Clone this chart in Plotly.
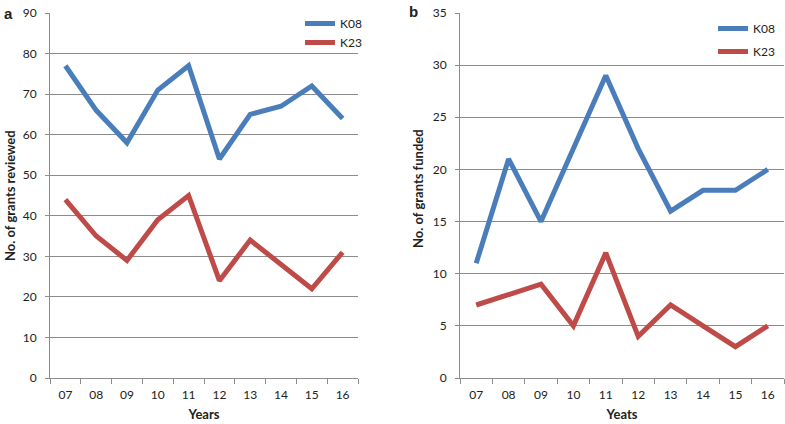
import plotly.graph_objects as go

years = ["07", "08", "09", "10", "11", "12", "13", "14", "15", "16"]
reviewed_k08 = [77, 66, 58, 71, 77, 54, 65, 67, 72, 64]
reviewed_k23 = [44, 35, 29, 39, 45, 24, 34, 28, 22, 31]
funded_k08 = [11, 21, 15, 22, 29, 22, 16, 18, 18, 20]
funded_k23 = [7, 8, 9, 5, 12, 4, 7, 5, 3, 5]

BLUE = "#4A7EBB"
RED = "#BE4B48"
GRID = "#8C8C8C"
FONT = "Lato"
W, H = 785, 424

fig = go.Figure()
fig.add_trace(go.Scatter(x=years, y=reviewed_k08, mode="lines", name="K08",
                         line=dict(color=BLUE, width=5), xaxis="x", yaxis="y", legend="legend"))
fig.add_trace(go.Scatter(x=years, y=reviewed_k23, mode="lines", name="K23",
                         line=dict(color=RED, width=5), xaxis="x", yaxis="y", legend="legend"))
fig.add_trace(go.Scatter(x=years, y=funded_k08, mode="lines", name="K08", legendgroup="b1",
                         line=dict(color=BLUE, width=5), xaxis="x2", yaxis="y2", legend="legend2"))
fig.add_trace(go.Scatter(x=years, y=funded_k23, mode="lines", name="K23", legendgroup="b2",
                         line=dict(color=RED, width=5), xaxis="x2", yaxis="y2", legend="legend2"))

ydom = [1 - 378 / H, 1 - 13 / H]
xaxis_common = dict(type="category", range=[-0.5, 9.5], showgrid=False, showline=True,
                    linecolor=GRID, linewidth=1, ticks="outside", tickson="boundaries",
                    ticklen=5, tickcolor=GRID, tickfont=dict(size=12, color="#222"),
                    ticklabelstandoff=6, fixedrange=True, zeroline=False, automargin=False)
yaxis_common = dict(showgrid=True, gridcolor=GRID, gridwidth=1, showline=True, linecolor=GRID,
                    ticks="outside", ticklen=4, tickcolor=GRID, zeroline=False, automargin=False,
                    tickfont=dict(size=12, color="#222"), domain=ydom, ticklabelstandoff=6)

fig.update_layout(
    width=W, height=H, margin=dict(l=0, r=0, t=0, b=0, autoexpand=False),
    paper_bgcolor="white", plot_bgcolor="white",
    font=dict(family=FONT, size=12, color="#222"),
    xaxis=dict(xaxis_common, domain=[50 / W, 358 / W], anchor="y",
               title=dict(text="<b>Years</b>", font=dict(size=13), standoff=8)),
    yaxis=dict(yaxis_common, range=[0, 90], dtick=10, anchor="x"),
    xaxis2=dict(xaxis_common, domain=[460 / W, 784 / W], anchor="y2",
                title=dict(text="<b>Yeats</b>", font=dict(size=13), standoff=8)),
    yaxis2=dict(yaxis_common, range=[0, 35], dtick=5, anchor="x2"),
    legend=dict(x=300 / W, y=1 - 9 / H, xanchor="left", yanchor="top", bgcolor="rgba(0,0,0,0)",
                font=dict(size=12), itemwidth=30),
    legend2=dict(x=713 / W, y=1 - 14 / H, xanchor="left", yanchor="top", bgcolor="rgba(0,0,0,0)",
                 font=dict(size=12), tracegroupgap=4, itemwidth=30),
    annotations=[
        dict(text="<b>a</b>", x=2 / W, y=1 - 13 / H, xref="paper", yref="paper",
             xanchor="left", yanchor="middle", showarrow=False, font=dict(size=15, family="Liberation Sans")),
        dict(text="<b>b</b>", x=407 / W, y=1 - 12 / H, xref="paper", yref="paper",
             xanchor="left", yanchor="middle", showarrow=False, font=dict(size=15, family="Liberation Sans")),
        dict(text="<b>No. of grants reviewed</b>", x=10 / W, y=1 - 196 / H, xref="paper", yref="paper",
             xanchor="center", yanchor="middle", textangle=-90, showarrow=False, font=dict(size=13)),
        dict(text="<b>No. of grants funded</b>", x=418 / W, y=1 - 189 / H, xref="paper", yref="paper",
             xanchor="center", yanchor="middle", textangle=-90, showarrow=False, font=dict(size=13)),
    ],
)

fig.write_html("out.html", config={"displayModeBar": False},
               post_script="document.body.style.margin='0';document.body.style.overflow='hidden';")
